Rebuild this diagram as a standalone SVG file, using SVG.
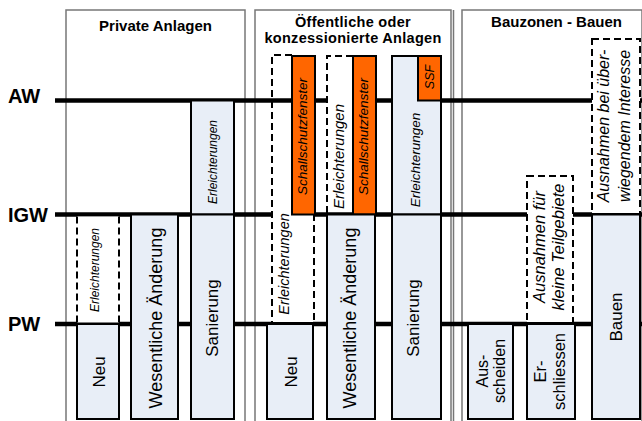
<svg xmlns="http://www.w3.org/2000/svg" width="642" height="421" viewBox="0 0 642 421">
<defs>
<style>
.panel{fill:none;stroke:#777;stroke-width:1.5}
.lvl{stroke:#000;stroke-width:4.5}
.blue{fill:#E8EEF7;stroke:#000;stroke-width:2}
.org{fill:#FF6600;stroke:#000;stroke-width:2}
.dash{fill:none;stroke:#000;stroke-width:2;stroke-dasharray:7 4}
.wht{fill:#fff;stroke:none}
.hd{font-family:"Liberation Sans",Arial,sans-serif;font-weight:bold;font-size:15px;text-anchor:middle;fill:#000}
.lv{font-family:"Liberation Sans",Arial,sans-serif;font-weight:bold;font-size:20px;fill:#000}
.t{font-family:"Liberation Sans",Arial,sans-serif;text-anchor:middle;fill:#000}
.i{font-style:italic}
</style>
</defs>
<rect x="0" y="0" width="642" height="421" fill="#fff"/>
<g id="panels">
<rect class="panel" x="66" y="10" width="179" height="420"/>
<rect class="panel" x="255" y="10" width="196" height="420"/>
<line class="panel" x1="453.5" y1="10" x2="453.5" y2="421"/>
<rect class="panel" x="462" y="10" width="180" height="420"/>
<text class="hd" x="155.5" y="31.4">Private Anlagen</text>
<text class="hd" x="353" y="26.5" style="font-size:14.5px;letter-spacing:0.3px">Öffentliche oder</text>
<text class="hd" x="353" y="43" style="font-size:14.5px;letter-spacing:0.3px">konzessionierte Anlagen</text>
<text class="hd" x="556.5" y="27.4">Bauzonen - Bauen</text>
</g>
<g id="connectors">
<line class="lvl" x1="55" y1="100.5" x2="642" y2="100.5"/>
<line class="lvl" x1="55" y1="214.5" x2="642" y2="214.5"/>
<line class="lvl" x1="55" y1="324" x2="642" y2="324"/>
</g>
<g id="level-labels">
<text class="lv" x="8" y="103">AW</text>
<text class="lv" x="8" y="221.5">IGW</text>
<text class="lv" x="8" y="331">PW</text>
</g>
<g id="p-neu-erl">
<rect class="wht" x="77" y="216.5" width="42" height="106"/>
<path class="dash" d="M77,216.5 V323 M119,216.5 V323"/>
<text class="t i" font-size="12" fill="#333" transform="translate(99,270) rotate(-90)">Erleichterungen</text>
</g>
<g id="p-neu">
<rect class="blue" x="77" y="324" width="42" height="95"/>
<text class="t" font-size="17" transform="translate(105,372) rotate(-90)">Neu</text>
</g>
<g id="p-wes">
<rect class="blue" x="131" y="214.5" width="47" height="204.5"/>
<text class="t" font-size="18" transform="translate(161.5,318) rotate(-90)">Wesentliche Änderung</text>
</g>
<g id="p-san-erl">
<rect class="blue" x="191" y="100.5" width="43" height="114"/>
<text class="t i" font-size="12" transform="translate(216.5,162) rotate(-90)">Erleichterungen</text>
</g>
<g id="p-san">
<rect class="blue" x="191" y="214.5" width="43" height="204.5"/>
<text class="t" font-size="17" transform="translate(218,318) rotate(-90)">Sanierung</text>
</g>
<g id="o-neu-erl">
<rect class="wht" x="273" y="211" width="40" height="111"/>
<path class="dash" d="M292,55 H272 V323 M314,214 V323"/>
<text class="t i" font-size="14.5" transform="translate(289,264) rotate(-90)">Erleichterungen</text>
</g>
<g id="o-neu-ssf">
<rect class="org" x="292" y="56" width="23" height="158.5"/>
<text class="t i" font-size="13.5" transform="translate(307,136.5) rotate(-90)">Schallschutzfenster</text>
</g>
<g id="o-neu">
<rect class="blue" x="267" y="324" width="46" height="95"/>
<text class="t" font-size="17" transform="translate(297,372) rotate(-90)">Neu</text>
</g>
<g id="o-wes-erl">
<rect class="wht" x="327" y="56" width="26" height="156"/>
<path class="dash" d="M353,56 H327 V214"/>
<text class="t i" font-size="15" transform="translate(344,156.5) rotate(-90)">Erleichterungen</text>
</g>
<g id="o-wes-ssf">
<rect class="org" x="353" y="56" width="23" height="158.5"/>
<text class="t i" font-size="13.5" transform="translate(368,136.5) rotate(-90)">Schallschutzfenster</text>
</g>
<g id="o-wes">
<rect class="blue" x="327" y="214.5" width="48" height="204.5"/>
<text class="t" font-size="18" transform="translate(356,318) rotate(-90)">Wesentliche Änderung</text>
</g>
<g id="o-san-erl">
<rect class="blue" x="392" y="56" width="49" height="158.5"/>
<text class="t i" font-size="13.5" transform="translate(420,160) rotate(-90)">Erleichterungen</text>
</g>
<g id="o-san-ssf">
<rect class="org" x="418" y="56" width="23" height="44.5"/>
<text class="t i" font-size="12.5" transform="translate(434,77) rotate(-90)">SSF</text>
</g>
<g id="o-san">
<rect class="blue" x="392" y="214.5" width="49" height="204.5"/>
<text class="t" font-size="17" transform="translate(419,318) rotate(-90)">Sanierung</text>
</g>
<g id="b-aus">
<rect class="blue" x="468" y="324" width="45" height="95"/>
<text class="t" font-size="16" transform="translate(488,371) rotate(-90)">Aus-<tspan x="0" dy="17">scheiden</tspan></text>
</g>
<g id="b-ausn-klein">
<rect class="wht" x="527" y="176" width="46" height="146"/>
<rect class="dash" x="527" y="176" width="46" height="147"/>
<text class="t i" font-size="16.5" transform="translate(545,247) rotate(-90)">Ausnahmen für<tspan x="0" dy="19">kleine Teilgebiete</tspan></text>
</g>
<g id="b-er">
<rect class="blue" x="527" y="324" width="48" height="95"/>
<text class="t" font-size="16.5" transform="translate(546,371.5) rotate(-90)">Er-<tspan x="0" dy="19">schliessen</tspan></text>
</g>
<g id="b-ausn-ueber">
<rect class="wht" x="592" y="39" width="48" height="174"/>
<rect class="dash" x="592" y="39" width="48" height="175"/>
<text class="t i" font-size="16" transform="translate(609,126) rotate(-90)">Ausnahmen bei über-<tspan x="0" dy="21">wiegendem Interesse</tspan></text>
</g>
<g id="b-bauen">
<rect class="blue" x="592" y="214.5" width="48" height="204.5"/>
<text class="t" font-size="17" transform="translate(622,317) rotate(-90)">Bauen</text>
</g>
</svg>
